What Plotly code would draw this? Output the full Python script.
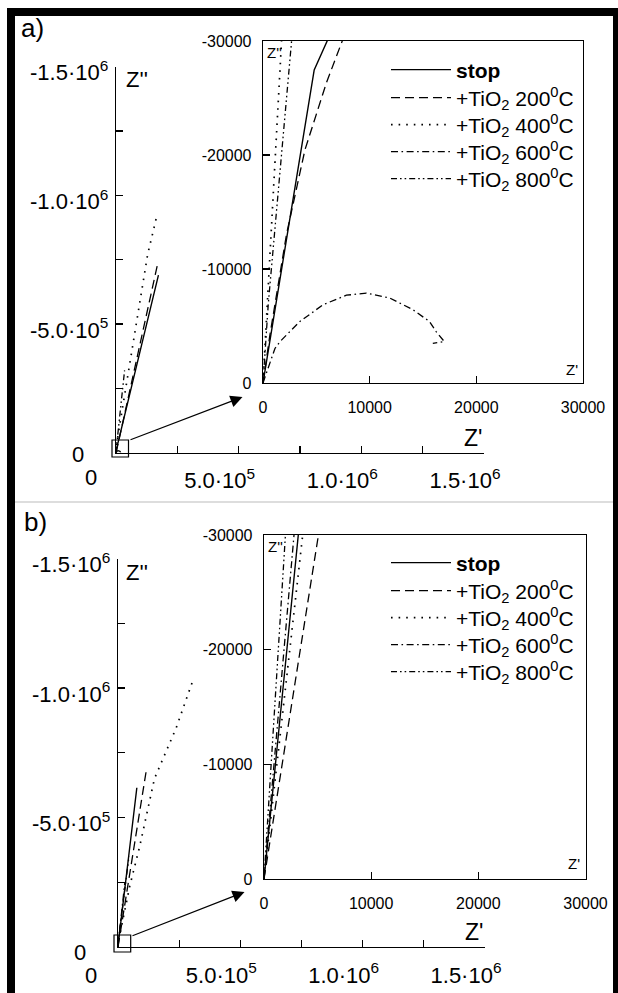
import plotly.graph_objects as go

W, H = 618, 993
FONT = "Liberation Sans, Arial, sans-serif"

# ---------------- data (Z' real part, Z'' imaginary part, Ohm) ----------------
a_stop_re = [0, 4800, 6100, 173000]
a_stop_im = [0, -27460, -30180, -690000]
a_200_re = [0, 650, 2210, 3930, 5950, 7500, 169000]
a_200_im = [0, -4220, -13070, -20440, -26350, -30180, -730000]
a_400_re = [0, 1740, 129000, 169000]
a_400_im = [0, -30000, -770000, -930000]
a_600_re = [0, 30, 1120, 1590, 3460, 5640, 7820, 9690, 11870, 14050, 15600, 16230, 17000, 15920]
a_600_im = [0, -90, -3030, -3630, -5400, -6870, -7700, -7880, -7460, -6430, -5400, -4510, -3630, -3480]
a_800_re = [0, 500, 2680, 35000]
a_800_im = [0, -7000, -30000, -320000]

b_stop_re = [0, 3200, 77000]
b_stop_im = [0, -30000, -615000]
b_200_re = [0, 5080, 117000]
b_200_im = [0, -30000, -690000]
b_400_re = [0, 3610, 48000, 89000, 149000, 237000, 310000]
b_400_im = [0, -30000, -235000, -390000, -650000, -844000, -1040000]
b_600_re = [0, 2800, 28000]
b_600_im = [0, -30000, -250000]
b_800_re = [0, 2000, 45000]
b_800_im = [0, -30000, -350000]

series_names = ["<b>stop</b>",
                "+TiO<sub>2</sub> 200<sup>0</sup>C",
                "+TiO<sub>2</sub> 400<sup>0</sup>C",
                "+TiO<sub>2</sub> 600<sup>0</sup>C",
                "+TiO<sub>2</sub> 800<sup>0</sup>C"]

main_tickvals_x = [500000, 1000000, 1500000]
main_ticktext_x = ["5.0\u00b710<sup>5</sup>", "1.0\u00b710<sup>6</sup>", "1.5\u00b710<sup>6</sup>"]
main_minor_x = [250000, 750000, 1250000]
main_tickvals_y = [-500000, -1000000, -1500000]
main_ticktext_y = ["-5.0\u00b710<sup>5</sup>", "-1.0\u00b710<sup>6</sup>", "-1.5\u00b710<sup>6</sup>"]
main_minor_y = [-250000, -750000, -1250000]
origin_label = "0"
inset_tickvals_x = [0, 10000, 20000, 30000]
inset_ticktext_x = ["0", "10000", "20000", "30000"]
inset_tickvals_y = [0, -10000, -20000, -30000]
inset_ticktext_y = ["0", "-10000", "-20000", "-30000"]

# ---------------- styles ----------------
line_styles = [
    dict(dash="solid", width=1.4),
    dict(dash="9px,5px", width=1.3),
    dict(dash="1.6px,6px", width=1.7),
    dict(dash="7px,3.5px,1.6px,3.5px", width=1.3),
    dict(dash="6px,3px,1.6px,3px,1.6px,3px", width=1.3),
]


def px(x):
    return x / W


def py(y):
    return 1 - y / H


# legend rows (pixel centres) for each panel
legend_rows = {"a": [70, 98, 125, 152, 179], "b": [563, 591, 618, 645, 672]}
legend_left = 386

panels = {
    "a": dict(
        data=[(a_stop_re, a_stop_im), (a_200_re, a_200_im), (a_400_re, a_400_im),
              (a_600_re, a_600_im), (a_800_re, a_800_im)],
        main=("x", "y"), inset=("x2", "y2"), legend_offset=0,
        origin_shift=dict(y=(-38, -2), x=(-25, -25))),
    "b": dict(
        data=[(b_stop_re, b_stop_im), (b_200_re, b_200_im), (b_400_re, b_400_im),
              (b_600_re, b_600_im), (b_800_re, b_800_im)],
        main=("x3", "y3"), inset=("x4", "y4"), legend_offset=5,
        origin_shift=dict(y=(-38, -5), x=(-27, -28))),
}


def legend_id(n):
    return "legend" if n == 1 else "legend%d" % n


fig = go.Figure()
legend_layouts = {}
for key, p in panels.items():
    for i, (re_, im_) in enumerate(p["data"]):
        st = line_styles[i]
        ln = dict(color="black", width=st["width"], dash=st["dash"])
        lid = legend_id(p["legend_offset"] + i + 1)
        fig.add_trace(go.Scatter(x=re_, y=im_, mode="lines", line=ln,
                                 xaxis=p["main"][0], yaxis=p["main"][1],
                                 showlegend=False, hoverinfo="skip"))
        fig.add_trace(go.Scatter(x=re_, y=im_, mode="lines", line=ln,
                                 xaxis=p["inset"][0], yaxis=p["inset"][1],
                                 name=series_names[i], legend=lid,
                                 showlegend=True, hoverinfo="skip"))
        legend_layouts[lid] = dict(
            x=px(legend_left), y=py(legend_rows[key][i]), xanchor="left", yanchor="middle",
            bgcolor="rgba(0,0,0,0)", borderwidth=0, itemwidth=60, tracegroupgap=0,
            font=dict(size=21, color="black", family=FONT))

common = dict(showgrid=False, zeroline=False, showline=True, linecolor="black",
              linewidth=1.3, ticks="inside", ticklen=7, tickwidth=1.3,
              tickcolor="black", tickmode="array", automargin=False)


def main_x(x0, x1, anchor):
    return dict(common, domain=[px(x0), px(x1)], anchor=anchor, range=[0, 1500000],
                tickvals=main_tickvals_x, ticktext=main_ticktext_x,
                minor=dict(tickmode="array", tickvals=main_minor_x, ticks="inside",
                           ticklen=7, tickwidth=1.3, tickcolor="black", showgrid=False),
                tickfont=dict(size=22, color="black", family=FONT),
                ticklabelshift=-19, ticklabelstandoff=8)


def main_y(y0, y1, anchor):
    return dict(common, domain=[py(y0), py(y1)], anchor=anchor, range=[0, -1500000],
                tickvals=main_tickvals_y, ticktext=main_ticktext_y,
                minor=dict(tickmode="array", tickvals=main_minor_y, ticks="inside",
                           ticklen=7, tickwidth=1.3, tickcolor="black", showgrid=False),
                tickfont=dict(size=22, color="black", family=FONT),
                ticklabelstandoff=2, ticklabelshift=-6)


def inset_x(x0, x1, anchor):
    return dict(common, domain=[px(x0), px(x1)], anchor=anchor, range=[0, 30000],
                mirror=True, tickvals=inset_tickvals_x, ticktext=inset_ticktext_x,
                tickfont=dict(size=16, color="black", family=FONT),
                ticklabelstandoff=9)


def inset_y(y0, y1, anchor):
    return dict(common, domain=[py(y0), py(y1)], anchor=anchor, range=[0, -30000],
                mirror=True, tickvals=inset_tickvals_y, ticktext=inset_ticktext_y,
                tickfont=dict(size=16, color="black", family=FONT),
                ticklabelstandoff=7)


fig.update_layout(
    template="none",
    width=W, height=H, autosize=False,
    margin=dict(l=0, r=0, t=0, b=0, pad=0),
    paper_bgcolor="white", plot_bgcolor="rgba(0,0,0,0)",
    font=dict(family=FONT, color="black"),
    xaxis=main_x(116, 484, "y"), yaxis=main_y(452.7, 66.5, "x"),
    xaxis2=inset_x(263, 583, "y2"), yaxis2=inset_y(383, 41, "x2"),
    xaxis3=main_x(118, 485, "y3"), yaxis3=main_y(947, 558.5, "x3"),
    xaxis4=inset_x(264, 585.5, "y4"), yaxis4=inset_y(879, 535, "x4"),
    showlegend=True,
    **legend_layouts,
)

shapes = []
# black frame of the figure
for (x0, y0, x1, y1) in [(7, 8, 618, 16), (7, 8, 15, 993), (613, 8, 618, 993)]:
    shapes.append(dict(type="rect", xref="paper", yref="paper", x0=px(x0), x1=px(x1),
                       y0=py(y0), y1=py(y1), fillcolor="black", line=dict(width=0)))
# separator between panels
shapes.append(dict(type="line", xref="paper", yref="paper", x0=px(15), x1=px(613),
                   y0=py(502), y1=py(502), line=dict(color="#dddddd", width=2)))
# zoom squares at the origin
for (x0, y0, x1, y1) in [(112, 440, 128.5, 457), (114, 935, 130.7, 952)]:
    shapes.append(dict(type="rect", xref="paper", yref="paper", x0=px(x0), x1=px(x1),
                       y0=py(y0), y1=py(y1), line=dict(color="black", width=1.2),
                       fillcolor="rgba(0,0,0,0)"))
fig.update_layout(shapes=shapes)

ann = []


def text_ann(txt, x, y, size, xanchor="center"):
    ann.append(dict(text=txt, x=px(x), y=py(y), xref="paper", yref="paper",
                    showarrow=False, xanchor=xanchor, yanchor="middle",
                    font=dict(size=size, color="black", family=FONT)))


# origin "0" labels of the main axes, anchored at the data origin
for key, p in panels.items():
    xa, ya = p["main"]
    for which in ("y", "x"):
        dx, dy = p["origin_shift"][which]
        ann.append(dict(text=origin_label, x=0, y=0, xref=xa, yref=ya, showarrow=False,
                        xanchor="center", yanchor="middle", xshift=dx, yshift=dy,
                        font=dict(size=22, color="black", family=FONT)))

text_ann("a)", 19, 28, 26, "left")
text_ann("b)", 22, 522, 26, "left")
text_ann("Z''", 124, 80, 22, "left")
text_ann("Z'", 473, 438, 23)
text_ann("Z''", 124, 572, 22, "left")
text_ann("Z'", 474, 932, 23)
text_ann("Z''", 274, 52, 15)
text_ann("Z'", 572, 369, 15)
text_ann("Z''", 275.5, 546, 15)
text_ann("Z'", 573.5, 863.5, 15)

for (tx, ty, sx, sy) in [(242.5, 397, 128.5, 440.5), (244.5, 892, 130.5, 936.5)]:
    ann.append(dict(text=" ", x=px(tx), y=py(ty), xref="paper", yref="paper",
                    showarrow=True, ax=sx - tx, ay=sy - ty, arrowhead=2,
                    arrowsize=2.0, arrowwidth=1.2, arrowcolor="black", standoff=0,
                    font=dict(size=2)))
fig.update_layout(annotations=ann)

fig.write_html("out.html", config={"displayModeBar": False, "staticPlot": True},
               post_script="document.body.style.margin='0';document.body.style.padding='0';")
